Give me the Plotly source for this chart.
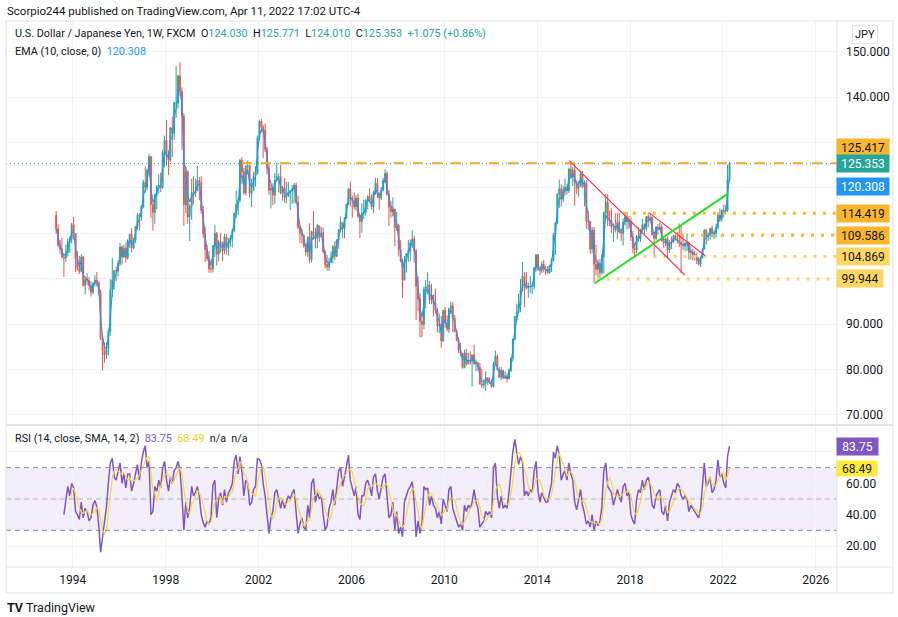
import numpy as np
import pandas as pd
import plotly.graph_objects as go

# ---------------- data (monthly, Apr 1993 .. Apr 2022) ----------------
first_open = 114.0
close = [
    111.0, 107.4, 106.5, 104.8, 104.6, 105.7, 108.2, 108.8, 111.9,
    109.9, 104.3, 102.4, 101.6, 104.8, 98.5, 99.9, 99.6, 98.5, 97.0, 98.9, 99.7,
    99.1, 96.9, 86.9, 84.1, 83.2, 84.6, 88.4, 97.5, 99.7, 101.8, 101.7, 103.4,
    107.0, 104.8, 106.7, 104.6, 108.3, 109.8, 106.8, 108.5, 111.5, 114.0, 113.7, 115.9,
    121.2, 120.2, 123.9, 126.9, 116.4, 114.6, 118.4, 120.2, 120.6, 120.1, 127.8, 130.5,
    127.0, 126.1, 133.2, 132.0, 138.7, 138.7, 144.7, 141.3, 135.8, 116.3, 123.5, 113.6,
    116.0, 119.0, 118.9, 119.4, 121.6, 121.1, 115.0, 109.8, 106.4, 104.4, 102.2, 102.2,
    107.3, 110.0, 105.4, 108.1, 107.6, 106.1, 109.2, 106.7, 108.1, 108.9, 110.6, 114.4,
    116.4, 117.3, 126.1, 123.5, 118.9, 124.7, 124.9, 118.8, 119.4, 122.5, 123.4, 131.0,
    134.7, 133.4, 132.7, 128.5, 124.3, 119.5, 119.9, 118.4, 121.7, 122.5, 122.5, 118.8,
    119.9, 117.9, 118.2, 119.0, 119.3, 119.8, 120.6, 116.9, 111.4, 110.0, 109.6, 107.2,
    105.9, 109.1, 104.2, 110.4, 109.6, 108.8, 111.7, 109.2, 110.1, 105.9, 103.1, 102.6,
    103.6, 104.6, 107.1, 104.9, 108.5, 110.8, 112.4, 111.0, 113.4, 116.4, 119.7, 117.8,
    117.2, 115.8, 117.8, 113.8, 112.6, 114.4, 114.6, 117.3, 118.1, 116.9, 115.8, 119.0,
    121.0, 118.6, 117.8, 119.5, 121.7, 123.2, 118.6, 115.8, 114.8, 115.3, 111.2, 111.7,
    106.4, 103.8, 99.7, 104.0, 105.5, 106.2, 107.9, 108.8, 106.1, 98.4, 95.5, 90.6,
    89.9, 97.6, 98.2, 98.6, 95.3, 96.4, 94.6, 93.0, 89.6, 90.0, 86.3, 93.0,
    90.3, 88.9, 93.4, 94.0, 91.3, 88.4, 86.5, 84.2, 83.5, 80.4, 83.7, 81.2,
    82.0, 81.8, 83.2, 81.2, 81.5, 80.5, 76.8, 76.6, 77.0, 78.2, 77.6, 77.0,
    76.2, 81.2, 82.9, 80.0, 78.3, 79.8, 78.1, 78.4, 77.9, 79.8, 82.5, 86.7,
    91.7, 92.6, 94.2, 97.4, 100.5, 99.1, 97.9, 98.2, 98.3, 98.4, 102.4, 105.3,
    102.0, 101.8, 103.2, 102.2, 101.8, 101.3, 102.8, 104.1, 109.7, 112.3, 118.6, 119.8,
    117.5, 119.6, 120.1, 119.4, 124.1, 122.4, 123.9, 121.2, 119.9, 120.6, 123.1, 120.2,
    121.1, 112.7, 112.6, 106.5, 110.7, 103.2, 102.1, 103.4, 101.3, 104.8, 114.5, 116.9,
    112.8, 112.8, 111.4, 111.5, 110.8, 112.4, 110.3, 110.0, 112.5, 113.6, 112.5, 112.7,
    109.2, 106.7, 106.3, 109.3, 108.8, 110.7, 111.9, 111.0, 113.7, 112.9, 113.5, 109.7,
    108.9, 111.4, 110.9, 111.4, 108.3, 107.9, 108.7, 106.3, 108.1, 108.0, 109.5, 108.7,
    108.4, 107.9, 107.5, 107.2, 107.8, 107.9, 105.8, 105.9, 105.5, 104.7, 104.3, 103.2,
    104.7, 106.6, 110.7, 109.3, 109.6, 111.1, 109.7, 110.0, 111.3, 114.0, 113.2, 115.1,
    115.1, 115.0, 121.7, 125.35,
]
high = [
    114.9, 112.0, 108.5, 109.0, 105.5, 107.5, 108.9, 109.3, 112.3,
    113.6, 110.0, 106.1, 105.0, 105.4, 105.0, 100.5, 101.2, 100.4, 99.4, 99.3, 100.8,
    101.5, 99.5, 97.6, 87.5, 86.0, 86.0, 89.0, 99.9, 104.6, 101.9, 102.7, 104.1,
    107.9, 107.3, 107.4, 108.0, 108.7, 109.9, 111.1, 109.0, 111.6, 114.5, 114.4, 116.2,
    121.8, 124.7, 124.3, 127.5, 127.0, 117.0, 118.7, 120.6, 123.0, 123.4, 128.4, 131.5,
    135.0, 128.2, 133.4, 135.7, 139.0, 146.8, 144.8, 147.66, 142.1, 136.5, 124.5, 123.9,
    116.4, 122.0, 122.5, 122.1, 124.8, 122.4, 122.6, 116.0, 111.5, 107.5, 106.1, 104.2,
    107.4, 111.8, 110.3, 108.6, 110.0, 108.2, 109.9, 109.8, 109.0, 109.7, 111.1, 114.6,
    119.4, 118.0, 126.3, 126.8, 124.4, 125.0, 126.0, 125.1, 122.0, 123.6, 124.8, 131.5,
    135.0, 135.2, 133.9, 134.2, 129.0, 125.3, 120.7, 121.0, 123.3, 125.6, 123.2, 125.1,
    120.4, 122.2, 121.3, 121.3, 119.6, 120.6, 121.1, 121.2, 118.3, 111.7, 110.9, 109.8,
    107.4, 109.4, 112.2, 110.6, 114.9, 111.2, 112.1, 111.7, 111.4, 111.3, 106.2, 105.2,
    104.6, 106.0, 107.4, 108.2, 108.7, 110.9, 113.7, 112.2, 113.6, 116.5, 120.0, 121.4,
    118.3, 119.0, 118.4, 118.7, 114.0, 116.6, 117.4, 117.5, 118.4, 119.9, 118.6, 119.4,
    122.2, 122.2, 119.0, 120.2, 122.2, 124.1, 123.7, 119.6, 117.0, 117.9, 115.4, 114.7,
    112.1, 108.5, 104.4, 105.0, 105.6, 108.6, 108.6, 110.7, 109.5, 106.6, 100.5, 96.7,
    91.8, 98.3, 99.7, 101.4, 99.5, 98.9, 96.5, 97.8, 93.5, 92.3, 91.8, 93.2,
    93.8, 91.9, 93.6, 94.9, 94.8, 92.0, 88.9, 87.2, 85.9, 83.7, 84.4, 84.5,
    83.7, 84.0, 83.3, 85.5, 82.2, 81.7, 81.4, 80.2, 77.9, 79.6, 78.3, 78.3,
    77.9, 81.7, 84.2, 83.3, 80.5, 80.6, 80.0, 79.6, 79.2, 80.2, 82.8, 86.8,
    91.8, 94.5, 96.7, 99.9, 103.7, 101.5, 101.5, 99.2, 100.6, 99.0, 102.6, 105.4,
    105.4, 102.8, 103.8, 104.1, 102.8, 102.8, 103.1, 104.5, 110.1, 112.5, 118.9, 121.8,
    120.8, 120.5, 122.0, 120.8, 124.5, 125.86, 124.6, 125.3, 121.7, 121.5, 123.8, 123.7,
    121.7, 121.7, 114.9, 112.7, 111.4, 111.4, 107.5, 104.3, 104.3, 105.5, 114.8, 118.7,
    118.6, 115.0, 115.5, 112.2, 114.4, 114.5, 114.5, 111.1, 113.3, 114.5, 114.7, 113.8,
    113.4, 110.5, 107.3, 109.6, 111.4, 111.0, 113.2, 112.2, 113.8, 114.55, 114.2, 113.8,
    110.0, 111.5, 112.1, 112.4, 112.0, 109.0, 109.0, 109.3, 108.5, 109.3, 109.7, 109.7,
    110.3, 112.2, 111.7, 109.4, 108.1, 109.9, 108.2, 107.1, 106.6, 106.1, 105.7, 104.8,
    104.9, 106.7, 110.9, 110.9, 110.2, 111.2, 111.7, 110.8, 112.1, 114.7, 115.5, 115.2,
    116.35, 116.3, 125.1, 125.77,
]
low = [
    109.9, 106.9, 105.5, 104.5, 100.4, 103.6, 104.9, 105.7, 107.8,
    108.6, 101.5, 101.8, 101.0, 101.6, 98.3, 96.6, 98.6, 97.4, 96.1, 96.5, 98.3,
    98.3, 96.3, 86.5, 79.75, 81.5, 82.3, 83.2, 87.4, 96.0, 97.7, 99.5, 100.5,
    102.8, 103.1, 104.5, 103.5, 104.2, 106.8, 105.8, 106.5, 107.9, 110.8, 110.6, 112.7,
    115.5, 118.9, 119.5, 122.5, 113.4, 110.6, 112.1, 115.3, 118.8, 119.1, 119.7, 124.5,
    124.9, 122.9, 125.7, 126.8, 130.5, 135.4, 137.5, 140.2, 128.4, 111.6, 114.4, 112.1,
    108.3, 113.0, 116.4, 118.0, 119.3, 117.3, 114.3, 108.9, 103.7, 103.9, 101.3, 101.3,
    101.4, 104.8, 102.9, 103.8, 105.7, 103.9, 105.4, 105.3, 105.1, 107.1, 106.9, 110.3,
    113.4, 114.0, 116.8, 120.9, 118.5, 118.3, 122.9, 117.8, 115.8, 119.5, 120.3, 122.9,
    130.5, 132.2, 126.6, 127.9, 123.0, 118.5, 115.5, 116.2, 116.5, 121.4, 119.0, 118.6,
    117.2, 116.8, 116.6, 118.0, 115.1, 116.5, 116.6, 116.5, 110.9, 107.9, 107.8, 106.8,
    105.1, 104.8, 103.4, 103.6, 108.6, 106.7, 106.7, 108.1, 109.0, 105.6, 102.3, 101.8,
    101.7, 103.4, 103.4, 104.1, 104.8, 106.6, 110.2, 108.9, 108.9, 113.1, 116.2, 115.9,
    113.4, 115.3, 115.0, 113.4, 108.9, 110.1, 113.1, 113.9, 115.3, 116.8, 115.2, 114.5,
    118.5, 117.8, 115.2, 117.3, 119.2, 121.1, 118.2, 111.6, 113.4, 113.7, 107.2, 110.5,
    104.9, 103.7, 95.7, 99.6, 101.4, 103.7, 103.8, 106.8, 103.5, 90.9, 92.8, 87.1,
    87.1, 88.9, 93.5, 96.5, 94.4, 94.4, 91.7, 92.3, 88.2, 88.0, 84.8, 86.1,
    89.2, 88.4, 88.1, 92.2, 88.2, 88.2, 86.2, 83.6, 82.9, 80.2, 80.3, 80.9,
    81.5, 81.1, 76.3, 81.1, 79.6, 79.7, 76.7, 75.9, 75.9, 75.35, 76.6, 76.9,
    76.0, 76.1, 80.9, 79.8, 78.1, 77.7, 77.9, 77.9, 77.1, 77.9, 79.4, 81.7,
    86.5, 90.9, 92.6, 92.6, 97.2, 93.8, 97.6, 95.8, 96.9, 96.6, 97.6, 101.6,
    101.8, 100.8, 101.2, 101.4, 100.8, 101.1, 101.1, 101.5, 103.8, 105.2, 112.0, 115.6,
    115.9, 116.8, 118.3, 118.5, 118.9, 122.0, 120.4, 116.1, 118.6, 118.1, 120.2, 119.9,
    115.9, 111.0, 110.7, 105.5, 105.6, 99.0, 100.7, 99.5, 100.1, 100.9, 101.2, 113.1,
    111.6, 111.6, 110.1, 108.1, 110.2, 108.8, 110.0, 108.3, 107.3, 111.7, 110.8, 111.0,
    108.3, 105.6, 104.6, 105.7, 108.1, 108.1, 110.3, 109.8, 110.4, 111.4, 112.3, 109.5,
    104.8, 108.5, 109.7, 110.8, 108.2, 106.8, 107.2, 104.45, 105.7, 106.5, 108.2, 108.4,
    107.7, 107.0, 101.2, 106.4, 105.99, 106.1, 104.2, 104.2, 104.0, 104.0, 103.2, 102.9,
    102.6, 104.4, 106.4, 107.5, 108.3, 108.6, 109.1, 108.7, 109.1, 110.8, 112.5, 112.6,
    113.5, 114.2, 114.7, 121.3,
]
rsi = [
    None, None, None, None, 40, 48, 58, 52, 60,
    57, 42, 40, 37, 48, 38, 44, 42, 36, 38, 46, 49,
    45, 33, 16, 26, 35, 45, 60, 73, 76, 64, 62, 68,
    73, 60, 66, 57, 66, 66, 55, 60, 67, 72, 62, 73,
    80, 84, 70, 74, 40, 42, 58, 55, 62, 57, 70, 74,
    62, 55, 64, 60, 68, 70, 74, 68, 52, 30, 48, 38,
    45, 58, 52, 54, 58, 52, 40, 35, 32, 36, 34, 38,
    59, 62, 38, 50, 54, 46, 56, 48, 54, 56, 60, 74,
    78, 66, 77, 68, 52, 62, 60, 46, 48, 56, 58, 76,
    75, 72, 60, 52, 40, 28, 38, 42, 54, 56, 50, 44,
    50, 44, 48, 52, 50, 54, 56, 42, 28, 34, 38, 32,
    30, 46, 38, 60, 63, 48, 54, 50, 52, 40, 30, 33,
    44, 48, 56, 46, 58, 68, 70, 58, 64, 72, 78, 62,
    56, 52, 58, 40, 37, 52, 52, 60, 62, 58, 52, 64,
    66, 55, 50, 58, 64, 66, 50, 38, 40, 48, 30, 42,
    28, 32, 26, 48, 52, 56, 58, 61, 48, 26, 36, 28,
    34, 58, 56, 57, 46, 52, 46, 44, 38, 42, 34, 50,
    46, 42, 56, 58, 44, 40, 37, 32, 34, 30, 46, 42,
    46, 44, 48, 56, 48, 44, 32, 34, 36, 42, 40, 42,
    38, 70, 73, 52, 44, 52, 44, 46, 44, 54, 68, 80,
    88, 78, 72, 77, 74, 52, 55, 52, 56, 54, 68, 74,
    55, 48, 54, 51, 48, 48, 54, 60, 80, 76, 84, 78,
    62, 66, 68, 62, 73, 66, 62, 48, 43, 50, 56, 46,
    41, 34, 36, 32, 40, 30, 36, 33, 36, 45, 68, 73,
    58, 56, 54, 46, 52, 56, 52, 48, 58, 60, 52, 54,
    40, 36, 34, 50, 56, 54, 62, 56, 62, 64, 58, 46,
    44, 52, 54, 56, 42, 40, 46, 36, 48, 52, 56, 54,
    60, 58, 52, 50, 52, 50, 42, 46, 44, 42, 40, 38,
    44, 58, 73, 58, 60, 64, 54, 56, 62, 75, 64, 66,
    60, 57, 77, 83.75,
]
year_ticks = [1994, 1998, 2002, 2006, 2010, 2014, 2018, 2022, 2026]
price_ticks = [70, 80, 90, 100, 110, 120, 130, 140, 150]
price_hidden = [100, 110, 120, 130]     # labels covered by the level tags
rsi_ticks = [20, 40, 60, 80]
rsi_hidden = [80]
level_values = [114.419, 109.586, 104.869, 99.944]
level_starts = ["2017-09-10", "2020-03-15", "2018-08-01", "2016-07-25"]
resist_value = 125.417
last_close = 125.353
ema_last = 120.308
rsi_last = 83.75
rsi_sma_last = 68.49
red1 = (["2015-05-20", "2020-05-15"], [126.0, 100.8])
red2 = (["2018-10-30", "2021-03-25"], [114.5, 105.1])
green = (["2016-06-28", "2022-03-30"], [99.0, 118.8])

assert len(close) == len(high) == len(low) == len(rsi)

# ---------------- derived ----------------
dates = pd.date_range("1993-04-01", periods=len(close), freq="MS") + pd.Timedelta(days=14)
opens = [first_open] + close[:-1]
hi = np.maximum(np.array(high), np.maximum(opens, close))
lo = np.minimum(np.array(low), np.minimum(opens, close))
ema = pd.Series(close).ewm(alpha=0.58, adjust=False).mean()
rsi_s = pd.Series(rsi, dtype=float)
rsi_sma = rsi_s.rolling(4).mean()

W, H = 898, 617
def px(x):
    return x / W
def py(y):
    return 1 - y / H

UP, DOWN = "#26a69a", "#ef5350"
TXT = "#131722"
GRID = "#f0f3fa"
BORDER = "#e0e3eb"
ORANGE = "#f9b52b"
LIGHT = "#fdd663"
FONT = "Roboto, sans-serif"

X0, X1 = "1991-02-16", "2026-12-01"

fig = go.Figure()
fig.add_trace(go.Candlestick(
    x=dates, open=opens, high=hi, low=lo, close=close,
    increasing=dict(line=dict(color=UP, width=1), fillcolor=UP),
    decreasing=dict(line=dict(color=DOWN, width=1), fillcolor=DOWN),
    whiskerwidth=0, showlegend=False, hoverinfo="skip", xaxis="x", yaxis="y"))
fig.add_trace(go.Scatter(x=dates, y=ema, mode="lines", line=dict(color="#2196f3", width=1.1),
                         showlegend=False, hoverinfo="skip", xaxis="x", yaxis="y"))
fig.add_trace(go.Scatter(x=dates, y=rsi_s, mode="lines", line=dict(color="#7e57c2", width=1.5),
                         showlegend=False, hoverinfo="skip", xaxis="x2", yaxis="y2"))
fig.add_trace(go.Scatter(x=dates, y=rsi_sma, mode="lines", line=dict(color="#f7d83a", width=1.2),
                         showlegend=False, hoverinfo="skip", xaxis="x2", yaxis="y2"))

shapes = []
shapes.append(dict(type="rect", xref="paper", yref="y2", x0=px(6), x1=px(837), y0=30, y1=70,
                   fillcolor="rgba(126,87,194,0.10)", line=dict(width=0), layer="below"))
for lv, col in [(70, "#8a8d96"), (50, "rgba(120,123,134,0.5)"), (30, "#8a8d96")]:
    shapes.append(dict(type="line", xref="paper", yref="y2", x0=px(6), x1=px(837), y0=lv, y1=lv,
                       line=dict(color=col, width=1, dash="5px,4px")))
shapes.append(dict(type="line", xref="paper", yref="y", x0=px(6), x1=px(837), y0=last_close, y1=last_close,
                   line=dict(color=UP, width=1, dash="1px,3px")))
shapes.append(dict(type="line", xref="x", yref="y", x0="2001-04-15", x1=X1, y0=resist_value, y1=resist_value,
                   line=dict(color="#f5a623", width=2, dash="10px,9px")))
for v, s, c in zip(level_values, level_starts, [ORANGE, ORANGE, LIGHT, LIGHT]):
    shapes.append(dict(type="line", xref="x", yref="y", x0=s, x1=X1, y0=v, y1=v,
                       line=dict(color=c, width=3, dash="3px,7px")))
for (xs, ys), c, w in [(red1, "#f23645", 1.2), (red2, "#f23645", 1.2), (green, "#22e022", 2)]:
    shapes.append(dict(type="line", xref="x", yref="y", x0=xs[0], x1=xs[1], y0=ys[0], y1=ys[1],
                       line=dict(color=c, width=w)))
shapes.append(dict(type="rect", xref="paper", yref="paper", x0=px(6), x1=px(893), y0=py(593), y1=py(21),
                   line=dict(color=BORDER, width=1)))
shapes.append(dict(type="line", xref="paper", yref="paper", x0=px(837), x1=px(837), y0=py(593), y1=py(21),
                   line=dict(color=BORDER, width=1)))
shapes.append(dict(type="line", xref="paper", yref="paper", x0=px(6), x1=px(893), y0=py(425), y1=py(425),
                   line=dict(color=BORDER, width=2)))
shapes.append(dict(type="line", xref="paper", yref="paper", x0=px(6), x1=px(893), y0=py(567), y1=py(567),
                   line=dict(color=BORDER, width=1)))

ann = []
def label(text, yval, yref, bg, fg, w=48, h=13, pad=2):
    ann.append(dict(xref="paper", yref=yref, x=px(836), y=yval, xanchor="left", yanchor="middle",
                    text=text, showarrow=False, bgcolor=bg, font=dict(color=fg, size=12, family=FONT),
                    width=w, height=h, borderpad=pad, align="center"))

label(f"{resist_value:.3f}", 128.87, "y", ORANGE, TXT)
label(f"{last_close:.3f}", last_close, "y", UP, "white")
label(f"{ema_last:.3f}", ema_last, "y", "#2196f3", "white")
label(f"{level_values[0]:.3f}", level_values[0], "y", ORANGE, TXT)
label(f"{level_values[1]:.3f}", level_values[1], "y", ORANGE, TXT)
label(f"{level_values[2]:.3f}", level_values[2], "y", LIGHT, TXT)
label(f"{level_values[3]:.3f}", level_values[3], "y", LIGHT, TXT, w=42)
label(f"{rsi_last:.2f}", rsi_last, "y2", "#7e57c2", "white", w=37)
label(f"{rsi_sma_last:.2f}", 69.6, "y2", "#ffeb3b", TXT, w=37, h=12, pad=1.5)

def text(t, x, y, size=12, color=TXT, **kw):
    ann.append(dict(xref="paper", yref="paper", x=px(x), y=py(y), xanchor="left", yanchor="middle",
                    text=t, showarrow=False, font=dict(size=size, color=color, family=FONT), **kw))

G = "<span style='color:#26a69a'>%s</span>"
SP = "&nbsp; "
text("Scorpio244 published on TradingView.com, Apr 11, 2022 17:02 UTC-4", 5, 11, size=11.5)
text("U.S. Dollar / Japanese Yen, 1W, FXCM" + SP + "O" + G % "124.030" + SP + "H" + G % "125.771"
     + SP + "L" + G % "124.010" + SP + "C" + G % "125.353" + SP + G % "+1.075 (+0.86%)",
     13, 34, size=10.8)
text("EMA (10, close, 0)" + SP + "<span style='color:#2196f3'>120.308</span>", 13, 51, size=10.8)
text("RSI (14, close, SMA, 14, 2)" + SP + "<span style='color:#7e57c2'>83.75</span>" + SP
     + "<span style='color:#f5cf1b'>68.49</span>" + SP + "n/a" + SP + "n/a", 13, 439, size=10.8)
text("<b>TV</b>&nbsp;TradingView", 5, 607, size=12.5)
ann.append(dict(xref="paper", yref="paper", x=px(865), y=py(34.5), xanchor="center", yanchor="middle",
                text="JPY", showarrow=False, font=dict(size=11, color=TXT, family=FONT),
                bordercolor=BORDER, borderwidth=1, borderpad=2, bgcolor="white"))

tickdates = [f"{y}-01-01" for y in year_ticks]
xcommon = dict(type="date", range=[X0, X1], domain=[px(6), px(837)], showgrid=True, gridcolor=GRID,
               zeroline=False, showline=False, tickvals=tickdates, ticktext=[str(y) for y in year_ticks],
               rangeslider=dict(visible=False), fixedrange=True)
price_text = ["" if v in price_hidden else f"{v:.3f}" for v in price_ticks]
rsi_text = ["" if v in rsi_hidden else f"{v:.2f}" for v in rsi_ticks]

fig.update_layout(
    width=W, height=H, margin=dict(l=0, r=0, t=0, b=0),
    paper_bgcolor="white", plot_bgcolor="white", showlegend=False,
    font=dict(family=FONT, color=TXT, size=12),
    xaxis=dict(xcommon, anchor="y", showticklabels=False),
    xaxis2=dict(xcommon, anchor="y2", showticklabels=True, tickfont=dict(size=12, color=TXT),
                ticks="outside", ticklen=2, tickcolor="rgba(0,0,0,0)"),
    yaxis=dict(domain=[py(425), py(21)], range=[67.78, 156.76], side="right", anchor="x",
               tickvals=price_ticks, ticktext=price_text, showgrid=True, gridcolor=GRID, zeroline=False,
               tickfont=dict(size=12, color=TXT), ticklabelstandoff=8, fixedrange=True),
    yaxis2=dict(domain=[py(567), py(425)], range=[6.6, 97.2], side="right", anchor="x2",
                tickvals=rsi_ticks, ticktext=rsi_text, showgrid=True, gridcolor=GRID, zeroline=False,
                tickfont=dict(size=12, color=TXT), ticklabelstandoff=8, fixedrange=True),
    shapes=shapes, annotations=ann, hovermode=False,
)

fig.write_html("out.html", config={"displayModeBar": False, "staticPlot": True},
               post_script="document.body.style.margin='0';document.body.style.padding='0';")
